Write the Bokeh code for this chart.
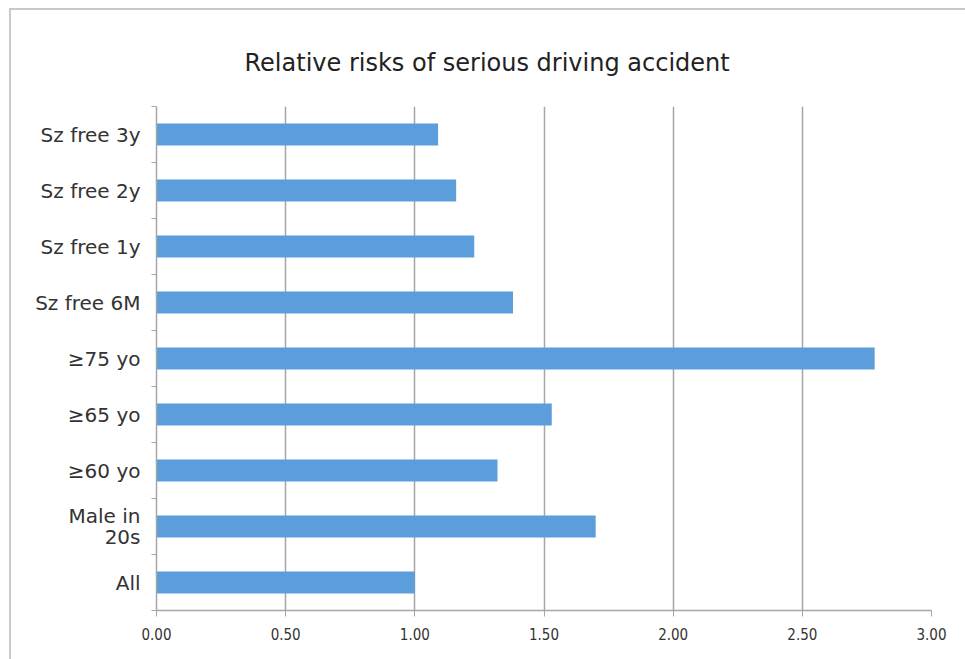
from bokeh.plotting import figure
from bokeh.models import FixedTicker, Range1d, NumeralTickFormatter, Title
from bokeh.embed import file_html
from bokeh.resources import INLINE

title_text = "Relative risks of serious driving accident"
categories = ["All", "Male in\n20s", "≥60 yo", "≥65 yo", "≥75 yo",
              "Sz free 6M", "Sz free 1y", "Sz free 2y", "Sz free 3y"]
values = [1.00, 1.70, 1.32, 1.53, 2.78, 1.38, 1.23, 1.16, 1.09]
x_ticks = [0.0, 0.5, 1.0, 1.5, 2.0, 2.5, 3.0]

pos = [i + 0.5 for i in range(len(categories))]

p = figure(width=956, height=651, output_backend="svg", toolbar_location=None,
           x_range=Range1d(0, 3), y_range=Range1d(0, len(categories)),
           min_border_left=145, min_border_right=36, min_border_top=96,
           min_border_bottom=51, margin=(8, 0, 0, 9))

p.title = Title(text=title_text, align="left",
                offset=88, text_font="DejaVu Sans", text_font_size="24px",
                text_font_style="normal", text_color="#222222", standoff=60)

p.hbar(y=pos, right=values, left=0, height=0.39, color="#5b9edb", line_color=None)

p.xgrid.ticker = FixedTicker(ticks=x_ticks[1:])
p.xgrid.grid_line_color = "#a6a6a6"
p.xgrid.grid_line_width = 1.5
p.ygrid.grid_line_color = None
p.outline_line_color = None

p.xaxis.ticker = FixedTicker(ticks=x_ticks)
p.xaxis.formatter = NumeralTickFormatter(format="0.00")
p.xaxis.axis_line_color = "#a6a6a6"
p.xaxis.axis_line_width = 1.5
p.xaxis.major_tick_line_color = "#a6a6a6"
p.xaxis.major_tick_out = 6
p.xaxis.major_tick_in = 0
p.xaxis.minor_tick_line_color = None
p.xaxis.major_label_text_font = "DejaVu Sans Condensed"
p.xaxis.major_label_text_font_size = "15px"
p.xaxis.major_label_text_color = "#333333"
p.xaxis.major_label_standoff = 11

p.yaxis.ticker = FixedTicker(ticks=pos, minor_ticks=list(range(len(categories) + 1)))
p.yaxis.major_label_overrides = {pos[i]: categories[i] for i in range(len(categories))}
p.yaxis.axis_line_color = "#a6a6a6"
p.yaxis.axis_line_width = 1.5
p.yaxis.major_tick_line_color = None
p.yaxis.minor_tick_line_color = "#a6a6a6"
p.yaxis.minor_tick_out = 5
p.yaxis.minor_tick_in = 0
p.yaxis.major_label_text_font = "DejaVu Sans"
p.yaxis.major_label_text_font_size = "20px"
p.yaxis.major_label_text_color = "#333333"
p.yaxis.major_label_text_line_height = 0.9
p.yaxis.major_label_standoff = 10

p.styles = {"border-left": "2px solid #c8c8c8", "border-top": "2px solid #c8c8c8"}

open("out.html", "w").write(file_html(p, INLINE))
